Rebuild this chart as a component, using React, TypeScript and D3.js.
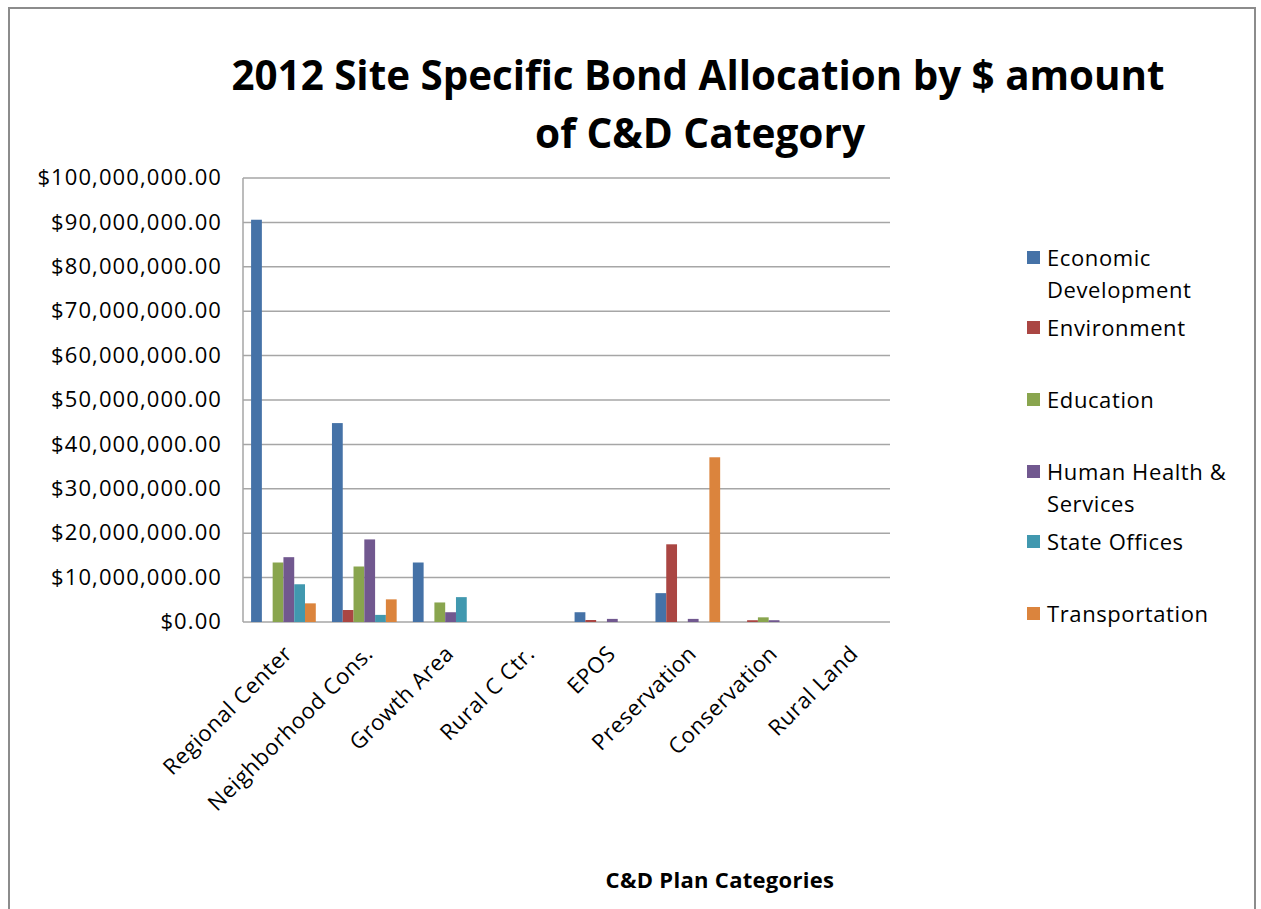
import React from "react";
import * as d3 from "d3";

const categories = [
  "Regional Center",
  "Neighborhood Cons.",
  "Growth Area",
  "Rural C Ctr.",
  "EPOS",
  "Preservation",
  "Conservation",
  "Rural Land",
];

const seriesNames = [
  "Economic Development",
  "Environment",
  "Education",
  "Human Health & Services",
  "State Offices",
  "Transportation",
];

const economicDevelopment = [90.6e6, 44.8e6, 13.4e6, 0, 2.2e6, 6.5e6, 0, 0];
const environment = [0, 2.7e6, 0, 0, 0.45e6, 17.5e6, 0.4e6, 0];
const education = [13.4e6, 12.5e6, 4.4e6, 0, 0, 0, 1.05e6, 0];
const humanHealth = [14.6e6, 18.6e6, 2.2e6, 0, 0.7e6, 0.7e6, 0.4e6, 0];
const stateOffices = [8.5e6, 1.6e6, 5.6e6, 0, 0, 0, 0, 0];
const transportation = [4.2e6, 5.1e6, 0, 0, 0, 37.1e6, 0, 0];

const seriesValues = [
  economicDevelopment,
  environment,
  education,
  humanHealth,
  stateOffices,
  transportation,
];

const colors = ["#4572A7", "#AA4643", "#89A54E", "#71588F", "#4198AF", "#DB843D"];

const yTicks = [0, 10e6, 20e6, 30e6, 40e6, 50e6, 60e6, 70e6, 80e6, 90e6, 100e6];

const legendLines: string[][] = [
  ["Economic", "Development"],
  ["Environment"],
  ["Education"],
  ["Human Health &", "Services"],
  ["State Offices"],
  ["Transportation"],
];

const FONT = "'Open Sans', 'DejaVu Sans', sans-serif";

export default function App() {
  const W = 1261;
  const H = 909;
  const left = 243;
  const right = 890;
  const top = 178;
  const bottom = 622;

  const x = d3.scaleBand<string>().domain(categories).range([left, right]).paddingInner(0).paddingOuter(0);
  const y = d3.scaleLinear().domain([0, 100e6]).range([bottom, top]);
  const bw = x.bandwidth();
  const inner = d3
    .scaleBand<number>()
    .domain(d3.range(seriesNames.length))
    .range([bw * 0.1, bw * 0.9])
    .paddingInner(0);
  const fmt = (v: number) => "$" + d3.format(",.2f")(v);

  const legendY = [258, 328, 400, 472, 542, 614];

  return (
    <svg
      width={W}
      height={H}
      style={{ position: "absolute", left: 0, top: 0, background: "#fff" }}
      fontFamily={FONT}
    >
      <rect x={0} y={0} width={W} height={H} fill="#fff" />
      <rect x={9} y={8} width={1246} height={H + 20} fill="none" stroke="#8c8c8c" strokeWidth={2} />

      <text x={698} y={90} textAnchor="middle" fontSize={42} fontWeight="bold" fill="#000"
        textLength={933} lengthAdjust="spacingAndGlyphs">
        2012 Site Specific Bond Allocation by $ amount
      </text>
      <text x={700} y={148} textAnchor="middle" fontSize={42} fontWeight="bold" fill="#000"
        textLength={330} lengthAdjust="spacingAndGlyphs">
        of C&amp;D Category
      </text>

      {yTicks.map((t) => (
        <g key={t}>
          <line x1={left} x2={right} y1={y(t)} y2={y(t)} stroke="#a6a6a6" strokeWidth={1.5} />
          <text x={222} y={y(t)} dy="0.33em" textAnchor="end" fontSize={22} letterSpacing={1.1} fill="#000">
            {fmt(t)}
          </text>
        </g>
      ))}
      <line x1={left} x2={left} y1={top} y2={bottom} stroke="#a6a6a6" strokeWidth={1.5} />

      {categories.map((c, ci) => (
        <g key={c}>
          {seriesValues.map((vals, si) =>
            vals[ci] > 0 ? (
              <rect
                key={si}
                x={(x(c) as number) + (inner(si) as number)}
                y={y(vals[ci])}
                width={inner.bandwidth()}
                height={y(0) - y(vals[ci])}
                fill={colors[si]}
              />
            ) : null
          )}
        </g>
      ))}

      {categories.map((c) => {
        const cx = (x(c) as number) + bw / 2 + 10;
        const cy = 655;
        return (
          <text key={c} x={cx} y={cy} textAnchor="end" fontSize={22} letterSpacing={0.6} fill="#000"
            transform={`rotate(-45 ${cx} ${cy})`}>
            {c}
          </text>
        );
      })}

      <text x={720} y={888} textAnchor="middle" fontSize={22} letterSpacing={0.3} fontWeight="bold" fill="#000">
        C&amp;D Plan Categories
      </text>

      {seriesNames.map((s, i) => (
        <g key={s}>
          <rect x={1027} y={legendY[i] - 7} width={13} height={13} fill={colors[i]} />
          {legendLines[i].map((ln, li) => (
            <text key={li} x={1047} y={legendY[i] + li * 32} dy="0.35em" fontSize={22} letterSpacing={0.6} fill="#000">
              {ln}
            </text>
          ))}
        </g>
      ))}
    </svg>
  );
}
